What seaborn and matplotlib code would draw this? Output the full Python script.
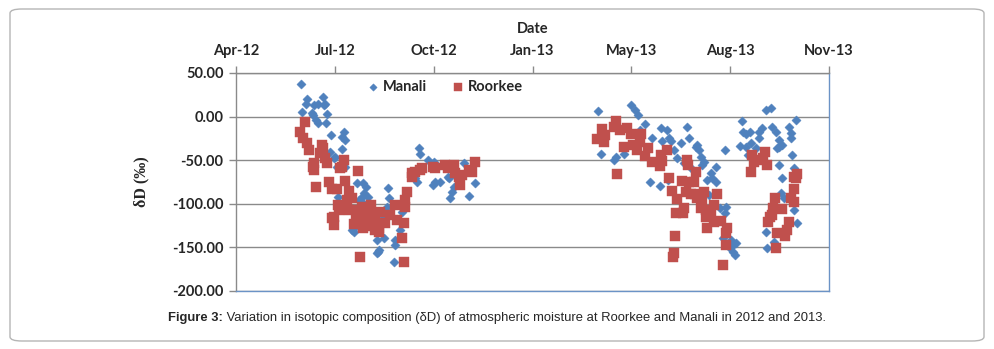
import matplotlib
matplotlib.use("Agg")
import matplotlib.pyplot as plt
import matplotlib.dates as mdates
from matplotlib.patches import FancyBboxPatch
import seaborn as sns
import pandas as pd

# ---------------- data ----------------
manali_dates = [
    "2012-06-06", "2012-06-12", "2012-06-11", "2012-06-07", "2012-06-19", "2012-06-23", "2012-06-28",
    "2012-06-29", "2012-06-30", "2012-06-17", "2012-06-18", "2012-06-21", "2012-06-23", "2012-07-02",
    "2012-07-01", "2012-07-06", "2012-07-19", "2012-07-17", "2012-07-20", "2012-07-17", "2012-07-05",
    "2012-07-09", "2012-07-10", "2012-07-20", "2012-07-12", "2012-08-01", "2012-08-08", "2012-08-11",
    "2012-08-09", "2012-08-13", "2012-08-06", "2012-08-03", "2012-08-08", "2012-08-14", "2012-07-29",
    "2012-08-01", "2012-07-29", "2012-07-13", "2012-08-23", "2012-08-22", "2012-07-27", "2012-09-14",
    "2012-10-03", "2012-10-04", "2012-10-12", "2012-10-18", "2012-10-19", "2012-10-17", "2012-10-24",
    "2012-11-01", "2012-11-03", "2012-11-08", "2012-11-06", "2012-11-04", "2012-11-18", "2012-11-29",
    "2012-11-23", "2012-09-02", "2012-09-03", "2012-09-01", "2012-08-30", "2012-08-29", "2012-08-24",
    "2012-08-22", "2012-09-08", "2012-09-09", "2012-09-09", "2012-08-29", "2012-09-16", "2012-09-29",
    "2012-10-01", "2012-08-05", "2012-08-10", "2012-08-15", "2012-07-31",
    "2013-04-02", "2013-05-06", "2013-05-10", "2013-05-13", "2013-05-20", "2013-04-05", "2013-04-18",
    "2013-04-20", "2013-04-29", "2013-05-15", "2013-05-27", "2013-06-06", "2013-06-05", "2013-06-11",
    "2013-06-13", "2013-06-15", "2013-07-01", "2013-06-18", "2013-06-21", "2013-06-25", "2013-07-03",
    "2013-06-28", "2013-07-06", "2013-07-10", "2013-05-25", "2013-06-04", "2013-06-12", "2013-07-11",
    "2013-07-13", "2013-07-15", "2013-07-19", "2013-07-17", "2013-07-31", "2013-07-26", "2013-07-22",
    "2013-07-27", "2013-07-31", "2013-07-24", "2013-08-09", "2013-08-04", "2013-08-10", "2013-08-09",
    "2013-08-07", "2013-08-15", "2013-08-17", "2013-08-20", "2013-08-14", "2013-08-17", "2013-08-19",
    "2013-08-26", "2013-09-19", "2013-09-24", "2013-08-27", "2013-08-30", "2013-09-03", "2013-09-12",
    "2013-09-15", "2013-09-12", "2013-09-25", "2013-09-29", "2013-08-24", "2013-08-30", "2013-09-04",
    "2013-09-09", "2013-10-02", "2013-10-05", "2013-10-02", "2013-09-30", "2013-09-01", "2013-09-06",
    "2013-10-20", "2013-10-13", "2013-10-15", "2013-10-15", "2013-10-16", "2013-10-02", "2013-10-05",
    "2013-10-18", "2013-10-20", "2013-10-04", "2013-10-07", "2013-10-18", "2013-10-21", "2013-09-19",
    "2013-09-20", "2013-09-27",
]
manali_dD = [
    37, 20, 15, 5, 13, 15, 22,
    13, 15, 4, 2, -4, -7, 3,
    -7, -21, -18, -23, -27, -37, -41,
    -48, -46, -58, -58, -76, -76, -81,
    -88, -92, -92, -96, -99, -104, -107,
    -115, -132, -92, -155, -141, -130, -130,
    -36, -43, -50, -52, -75, -78, -75,
    -69, -70, -81, -86, -93, -53, -76,
    -91, -82, -93, -104, -109, -115, -153,
    -156, -167, -141, -147, -139, -109, -70,
    -75, -112, -120, -118, -125,
    6, 13, 7, 2, -8, -43, -50,
    -46, -43, -15, -25, -28, -13, -15,
    -25, -28, -12, -38, -48, -30, -25,
    -53, -60, -35, -75, -80, -73, -33,
    -38, -46, -52, -56, -58, -65, -73,
    -70, -75, -90, -38, -105, -104, -111,
    -139, -141, -147, -145, -151, -155, -159,
    -5, 7, 10, -18, -20, -18, -18,
    -13, -25, -12, -18, -34, -35, -30,
    -36, -27, -33, -35, -36, -44, -48,
    -4, -12, -19, -25, -44, -56, -70,
    -59, -67, -88, -93, -107, -122, -132,
    -151, -144,
]

roorkee_dates = [
    "2012-06-10", "2012-06-05", "2012-06-08", "2012-06-12", "2012-06-14", "2012-06-27", "2012-06-28",
    "2012-06-25", "2012-06-30", "2012-07-02", "2012-06-19", "2012-06-18", "2012-06-19", "2012-07-19",
    "2012-07-17", "2012-07-15", "2012-08-02", "2012-07-04", "2012-06-21", "2012-07-07", "2012-07-12",
    "2012-07-20", "2012-07-24", "2012-07-22", "2012-07-27", "2012-07-13", "2012-07-14", "2012-07-09",
    "2012-07-07", "2012-07-09", "2012-07-24", "2012-08-01", "2012-08-06", "2012-08-16", "2012-08-13",
    "2012-08-20", "2012-07-29", "2012-08-04", "2012-08-04", "2012-08-20", "2012-08-24", "2012-09-21",
    "2012-09-19", "2012-09-19", "2012-09-09", "2012-08-25", "2012-09-04", "2012-09-11", "2012-09-18",
    "2012-08-30", "2012-08-21", "2012-08-24", "2012-09-16", "2012-09-18", "2012-09-26", "2012-09-29",
    "2012-10-04", "2012-10-06", "2012-10-17", "2012-10-19", "2012-10-29", "2012-11-01", "2012-11-08",
    "2012-11-09", "2012-11-13", "2012-11-16", "2012-11-14", "2012-11-23", "2012-11-29", "2012-11-26",
    "2012-09-26", "2012-08-10", "2012-08-12", "2012-08-18", "2012-08-08", "2012-07-31",
    "2013-04-20", "2013-04-18", "2013-04-25", "2013-04-06", "2013-04-09", "2013-04-01", "2013-04-08",
    "2013-05-02", "2013-05-06", "2013-05-16", "2013-05-08", "2013-05-15", "2013-05-12", "2013-04-29",
    "2013-05-23", "2013-05-20", "2013-05-27", "2013-06-05", "2013-06-11", "2013-06-06", "2013-06-04",
    "2013-04-22", "2013-06-13", "2013-06-16", "2013-06-21", "2013-06-26", "2013-06-30", "2013-07-03",
    "2013-07-05", "2013-07-09", "2013-07-01", "2013-07-02", "2013-07-10", "2013-06-20", "2013-06-27",
    "2013-06-28", "2013-06-19", "2013-06-18", "2013-06-17", "2013-07-08", "2013-07-19", "2013-07-15",
    "2013-07-11", "2013-07-16", "2013-07-15", "2013-07-21", "2013-07-26", "2013-07-21", "2013-07-29",
    "2013-08-01", "2013-07-22", "2013-07-29", "2013-08-05", "2013-08-11", "2013-08-10", "2013-08-10",
    "2013-08-07", "2013-09-05", "2013-09-07", "2013-09-13", "2013-09-18", "2013-09-16", "2013-09-20",
    "2013-09-04", "2013-09-28", "2013-09-26", "2013-09-25", "2013-09-23", "2013-09-21", "2013-10-05",
    "2013-09-30", "2013-10-08", "2013-10-11", "2013-10-13", "2013-09-29", "2013-10-15", "2013-10-18",
    "2013-10-18", "2013-10-20", "2013-10-21", "2013-10-18",
]
roorkee_dD = [
    -6, -18, -25, -30, -38, -33, -36,
    -42, -48, -53, -53, -58, -61, -50,
    -58, -59, -62, -75, -81, -83, -83,
    -74, -85, -96, -93, -101, -107, -115,
    -116, -124, -107, -107, -104, -101, -115,
    -119, -123, -121, -161, -130, -128, -86,
    -96, -104, -101, -109, -113, -119, -122,
    -122, -127, -132, -139, -167, -65, -64,
    -61, -59, -58, -59, -56, -59, -56,
    -65, -69, -67, -78, -61, -52, -64,
    -69, -110, -125, -112, -128, -118,
    -5, -12, -15, -14, -21, -26, -29,
    -13, -20, -20, -33, -29, -38, -35,
    -36, -45, -52, -44, -38, -51, -57,
    -66, -70, -85, -94, -74, -87, -75,
    -89, -89, -50, -56, -64, -111, -111,
    -105, -137, -156, -161, -75, -86, -90,
    -93, -98, -105, -107, -109, -115, -101,
    -89, -128, -121, -120, -128, -133, -147,
    -170, -44, -52, -50, -41, -48, -56,
    -64, -93, -105, -113, -115, -121, -106,
    -133, -137, -130, -121, -151, -93, -98,
    -83, -70, -66, -69,
]

series_names = ["Manali", "Roorkee"]
y_ticks = [50, 0, -50, -100, -150, -200]
x_tick_dates = ["2012-04-01", "2012-07-10", "2012-10-18", "2013-01-26",
                "2013-05-06", "2013-08-14", "2013-11-22"]
caption_bold = "Figure 3:"
caption_rest = "Variation in isotopic composition (δD) of atmospheric moisture at Roorkee and Manali in 2012 and 2013."

# ---------------- figure ----------------
sns.set_theme(style="white")
plt.rcParams["font.family"] = ["Lato", "DejaVu Sans"]

W, H = 994, 349
fig = plt.figure(figsize=(W / 100, H / 100), dpi=100)

# rounded outer border
border = FancyBboxPatch((10 / W, 8 / H), 974 / W, 332 / H,
                        boxstyle="round,pad=0,rounding_size=0.012",
                        transform=fig.transFigure, facecolor="none",
                        edgecolor="#b5b5b5", linewidth=1.0, zorder=-5)
fig.patches.append(border)

ax = fig.add_axes([236 / W, 1 - 291 / H, (829 - 236) / W, (291 - 73) / H])
ax.set_facecolor("none")

df_m = pd.DataFrame({"date": pd.to_datetime(manali_dates), "dD": manali_dD, "site": series_names[0]})
df_r = pd.DataFrame({"date": pd.to_datetime(roorkee_dates), "dD": roorkee_dD, "site": series_names[1]})

blue = "#4F81BD"
red = "#C0504D"
sns.scatterplot(data=df_m, x="date", y="dD", ax=ax, marker="D", s=22, color=blue,
                edgecolor=blue, linewidth=0.3, label=series_names[0], zorder=3)
sns.scatterplot(data=df_r, x="date", y="dD", ax=ax, marker="s", s=44, color=red,
                edgecolor=red, linewidth=0.3, label=series_names[1], zorder=4)

xt = pd.to_datetime(x_tick_dates)
ax.set_xlim(xt[0], xt[-1] - pd.Timedelta(days=1))
ax.set_ylim(-200, 50)
ax.set_yticks(y_ticks)
ax.set_yticklabels([f"{v:.2f}" for v in y_ticks], fontweight="bold", fontsize=10.5)
ax.yaxis.grid(True, color="#8a8a8a", linewidth=1.0)
ax.xaxis.grid(False)
ax.set_axisbelow(True)

ax.set_xticks(xt)
ax.xaxis.set_major_formatter(mdates.DateFormatter("%b-%y"))
ax.xaxis.tick_top()
ax.xaxis.set_label_position("top")
for lbl in ax.get_xticklabels():
    lbl.set_fontweight("bold")
    lbl.set_fontsize(10.5)
ax.tick_params(axis="x", which="major", direction="out", length=5, width=1,
               color="#8a8a8a", pad=6, top=True, bottom=False)
ax.tick_params(axis="y", which="major", direction="out", length=5, width=1,
               color="#8a8a8a", pad=4, left=True)

ax.set_xlabel("Date", fontweight="bold", fontsize=10.5, labelpad=8)
ax.set_ylabel("δD (‰)", fontweight="bold", fontsize=11.5, labelpad=16,
              family=["Liberation Serif", "DejaVu Serif"])

for side in ["left", "top"]:
    ax.spines[side].set_color("#8a8a8a")
    ax.spines[side].set_linewidth(1.0)
for side in ["right", "bottom"]:
    ax.spines[side].set_color("#6b93c6")
    ax.spines[side].set_linewidth(1.0)

leg = ax.legend(loc="center", bbox_to_anchor=(0.35, 0.935), ncol=2, frameon=False,
                prop={"weight": "bold", "size": 10.5}, handletextpad=0.1,
                handlelength=1.2, columnspacing=1.5, borderaxespad=0,
                markerscale=0.8)

# caption: bold prefix + regular text, centred as a whole
cap_family = ["Liberation Sans Narrow", "Liberation Sans", "DejaVu Sans"]
cap_y = 1 - 318 / H
t1 = fig.text(0, cap_y, caption_bold, ha="left", va="center", fontsize=9.4,
              fontweight="bold", family=cap_family)
t2 = fig.text(0, cap_y, " " + caption_rest, ha="left", va="center", fontsize=9.4,
              family=cap_family)
fig.canvas.draw()
r = fig.canvas.get_renderer()
w1 = t1.get_window_extent(r).width
w2 = t2.get_window_extent(r).width
x0 = 497 - (w1 + w2) / 2
t1.set_x(x0 / W)
t2.set_x((x0 + w1) / W)

fig.savefig("out.png", dpi=100)
